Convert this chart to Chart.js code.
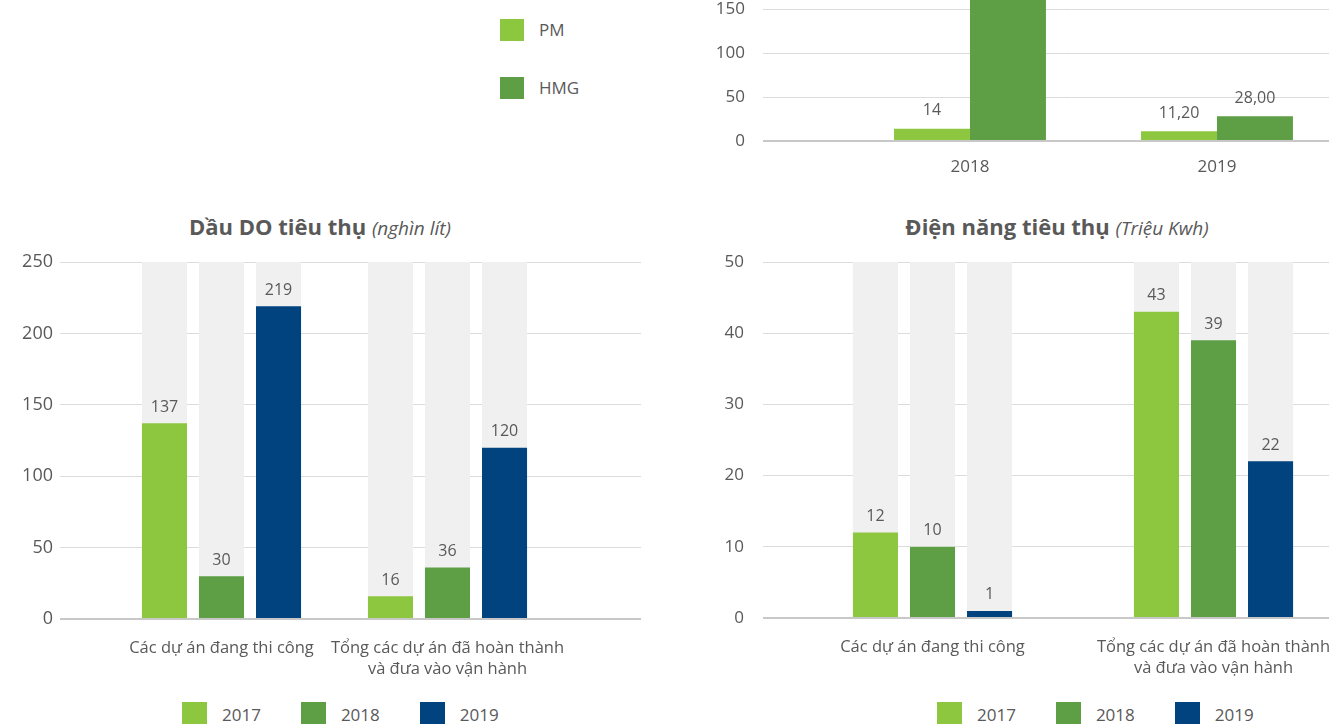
<!DOCTYPE html>
<html lang="vi">
<head>
<meta charset="utf-8">
<title>Tiêu thụ năng lượng</title>
<script src="https://cdn.jsdelivr.net/npm/chart.js@4.4.1/dist/chart.umd.min.js"></script>
<style>
    html, body { margin: 0; padding: 0; background: #fff; }
    body {
        position: relative;
        width: 1329px;
        height: 724px;
        overflow: hidden;
        font-family: 'Open Sans', sans-serif;
        color: #595959;
    }
    canvas { position: absolute; }
    #top-chart { left: 680px; top: -65px; }
    #diesel-chart { left: 0; top: 232px; }
    #power-chart { left: 680px; top: 232px; }

    .chart-title {
        position: absolute;
        top: 211px;
        text-align: center;
        font-size: 22px;
        line-height: 30px;
        font-weight: 700;
        white-space: nowrap;
    }
    .chart-title i { font-weight: 400; font-size: 19px; }
    #diesel-title { left: 0; width: 640px; }
    #power-title { left: 757px; width: 600px; }

    .legend { position: absolute; display: flex; gap: 40px; }
    .legend-item { display: flex; align-items: center; font-size: 17px; }
    .legend-color { width: 25px; height: 24px; margin-right: 15px; }
    #diesel-legend { top: 702px; left: 182px; }
    #power-legend { top: 702px; left: 937px; }
    #top-legend { top: 18px; left: 500px; flex-direction: column; gap: 35px; }
    #top-legend .legend-color { width: 24px; height: 22px; }
</style>
</head>
<body>
<div id="top-legend" class="legend"></div>
<canvas id="top-chart" width="700" height="255"></canvas>

<div id="diesel-title" class="chart-title">Dầu DO tiêu thụ <i>(nghìn lít)</i></div>
<canvas id="diesel-chart" width="641" height="457"></canvas>
<div id="diesel-legend" class="legend"></div>

<div id="power-title" class="chart-title">Điện năng tiêu thụ <i>(Triệu Kwh)</i></div>
<canvas id="power-chart" width="760" height="456"></canvas>
<div id="power-legend" class="legend"></div>

<script>
// Số liệu
const projectGroups = [
    ['Các dự án đang thi công'],
    ['Tổng các dự án đã hoàn thành', 'và đưa vào vận hành']
];
const years = ['2017', '2018', '2019'];

const diesel2017 = [137, 16];
const diesel2018 = [30, 36];
const diesel2019 = [219, 120];
const dieselTicks = [0, 50, 100, 150, 200, 250];

const power2017 = [12, 43];
const power2018 = [10, 39];
const power2019 = [1, 22];
const powerTicks = [0, 10, 20, 30, 40, 50];

const topYears = ['2018', '2019'];
const topPM = [14, 11.2];
const topHMG = [180, 28];
const topDecimals = [0, 2];
const topTicks = [0, 50, 100, 150, 200];

// Colors
const textColor = '#595959';
const yearColors = ['#8DC63F', '#5E9E44', '#00437F'];
const companyColors = ['#8DC63F', '#5E9E44'];
const columnGrey = '#F0F0F0';
const gridColor = '#DCDCDC';
const baseColor = '#C8C8C8';

Chart.defaults.font.family = "'Open Sans', sans-serif";
Chart.defaults.color = textColor;

// value text above each coloured bar
const valueLabels = {
    id: 'valueLabels',
    afterDatasetsDraw(chart, args, opts) {
        const ctx = chart.ctx;
        ctx.save();
        ctx.font = "16px 'Open Sans', sans-serif";
        ctx.fillStyle = textColor;
        ctx.textAlign = 'center';
        ctx.textBaseline = 'middle';
        chart.data.datasets.forEach((ds, i) => {
            if (!ds.showValues) return;
            chart.getDatasetMeta(i).data.forEach((bar, j) => {
                ctx.fillText(opts.format(ds.data[j].y, j), bar.x, bar.y - opts.offset);
            });
        });
        ctx.restore();
    }
};

function toPoints(values) {
    return values.map((v, i) => ({ x: i, y: v }));
}

function valueAxis(ticks, width, padding, fontSize) {
    return {
        type: 'linear',
        min: ticks[0],
        max: ticks[ticks.length - 1],
        stacked: false,
        afterBuildTicks: axis => { axis.ticks = ticks.map(v => ({ value: v })); },
        afterFit: axis => { axis.width = width; },
        border: { display: false },
        grid: {
            drawTicks: false,
            color: c => c.tick && c.tick.value === 0 ? baseColor : gridColor,
            lineWidth: c => c.tick && c.tick.value === 0 ? 2 : 1
        },
        ticks: { padding: padding, font: { size: fontSize }, color: textColor }
    };
}

// numeric x axis so the groups can sit anywhere inside the gridlines
function categoryAxis(labels, min, max, height, padding, fontSize) {
    return {
        type: 'linear',
        min: min,
        max: max,
        offset: false,
        afterBuildTicks: axis => { axis.ticks = labels.map((l, i) => ({ value: i })); },
        afterFit: axis => { axis.height = height; },
        border: { display: false },
        grid: { display: false, drawTicks: false, offset: false },
        ticks: {
            padding: padding,
            autoSkip: false,
            maxRotation: 0,
            font: { size: fontSize, lineHeight: 1.25 },
            color: textColor,
            callback: v => labels[v]
        }
    };
}

function createGroupedChart(canvasId, series, ticks, layout) {
    const top = ticks[ticks.length - 1];
    const datasets = [];
    years.forEach((year, i) => {
        datasets.push({
            label: year,
            data: toPoints(series[i]),
            backgroundColor: yearColors[i],
            stack: year,
            order: 1,
            showValues: true
        });
    });
    // light grey column behind every bar, up to the top of the scale
    years.forEach(year => {
        datasets.push({
            label: year,
            data: toPoints(projectGroups.map(() => top)),
            backgroundColor: columnGrey,
            stack: year,
            order: 2
        });
    });

    return new Chart(document.getElementById(canvasId), {
        type: 'bar',
        data: { datasets },
        options: {
            responsive: false,
            animation: false,
            barPercentage: 0.79,
            categoryPercentage: layout.categoryPercentage,
            layout: { padding: { top: 30, left: 0, right: 0, bottom: 0 } },
            scales: {
                x: categoryAxis(projectGroups, layout.xMin, layout.xMax, 70, 19, 16.5),
                y: valueAxis(ticks, layout.yWidth, layout.yPadding, layout.yFont)
            },
            plugins: {
                legend: { display: false },
                tooltip: { enabled: false },
                valueLabels: { offset: 16, format: v => String(v) }
            }
        },
        plugins: [valueLabels]
    });
}

function createTopChart() {
    return new Chart(document.getElementById('top-chart'), {
        type: 'bar',
        data: {
            datasets: [
                { label: 'PM', data: toPoints(topPM), backgroundColor: companyColors[0], showValues: true },
                { label: 'HMG', data: toPoints(topHMG), backgroundColor: companyColors[1], showValues: true }
            ]
        },
        options: {
            responsive: false,
            animation: false,
            barPercentage: 1,
            categoryPercentage: 0.615,
            layout: { padding: { top: 30, left: 0, right: 0, bottom: 0 } },
            scales: {
                x: categoryAxis(topYears, -0.838, 1.66, 49, 16, 17),
                y: valueAxis(topTicks, 83, 18, 17)
            },
            plugins: {
                legend: { display: false },
                tooltip: { enabled: false },
                valueLabels: {
                    offset: 18,
                    format: (v, j) => v.toFixed(topDecimals[j]).replace('.', ',')
                }
            }
        },
        plugins: [valueLabels]
    });
}

function createLegend(elementId, labels, colors) {
    const legendEl = document.getElementById(elementId);
    legendEl.innerHTML = labels.map((label, i) => `
        <div class="legend-item">
            <div class="legend-color" style="background: ${colors[i]}"></div>
            <span>${label}</span>
        </div>
    `).join('');
}

createTopChart();
createGroupedChart('diesel-chart', [diesel2017, diesel2018, diesel2019], dieselTicks,
    { xMin: -0.7146, xMax: 1.8562, categoryPercentage: 0.757, yWidth: 60, yPadding: 7, yFont: 18 });
createGroupedChart('power-chart', [power2017, power2018, power2019], powerTicks,
    { xMin: -0.6032, xMax: 1.806, categoryPercentage: 0.609, yWidth: 83, yPadding: 19, yFont: 17 });

createLegend('top-legend', ['PM', 'HMG'], companyColors);
createLegend('diesel-legend', years, yearColors);
createLegend('power-legend', years, yearColors);
</script>
</body>
</html>
